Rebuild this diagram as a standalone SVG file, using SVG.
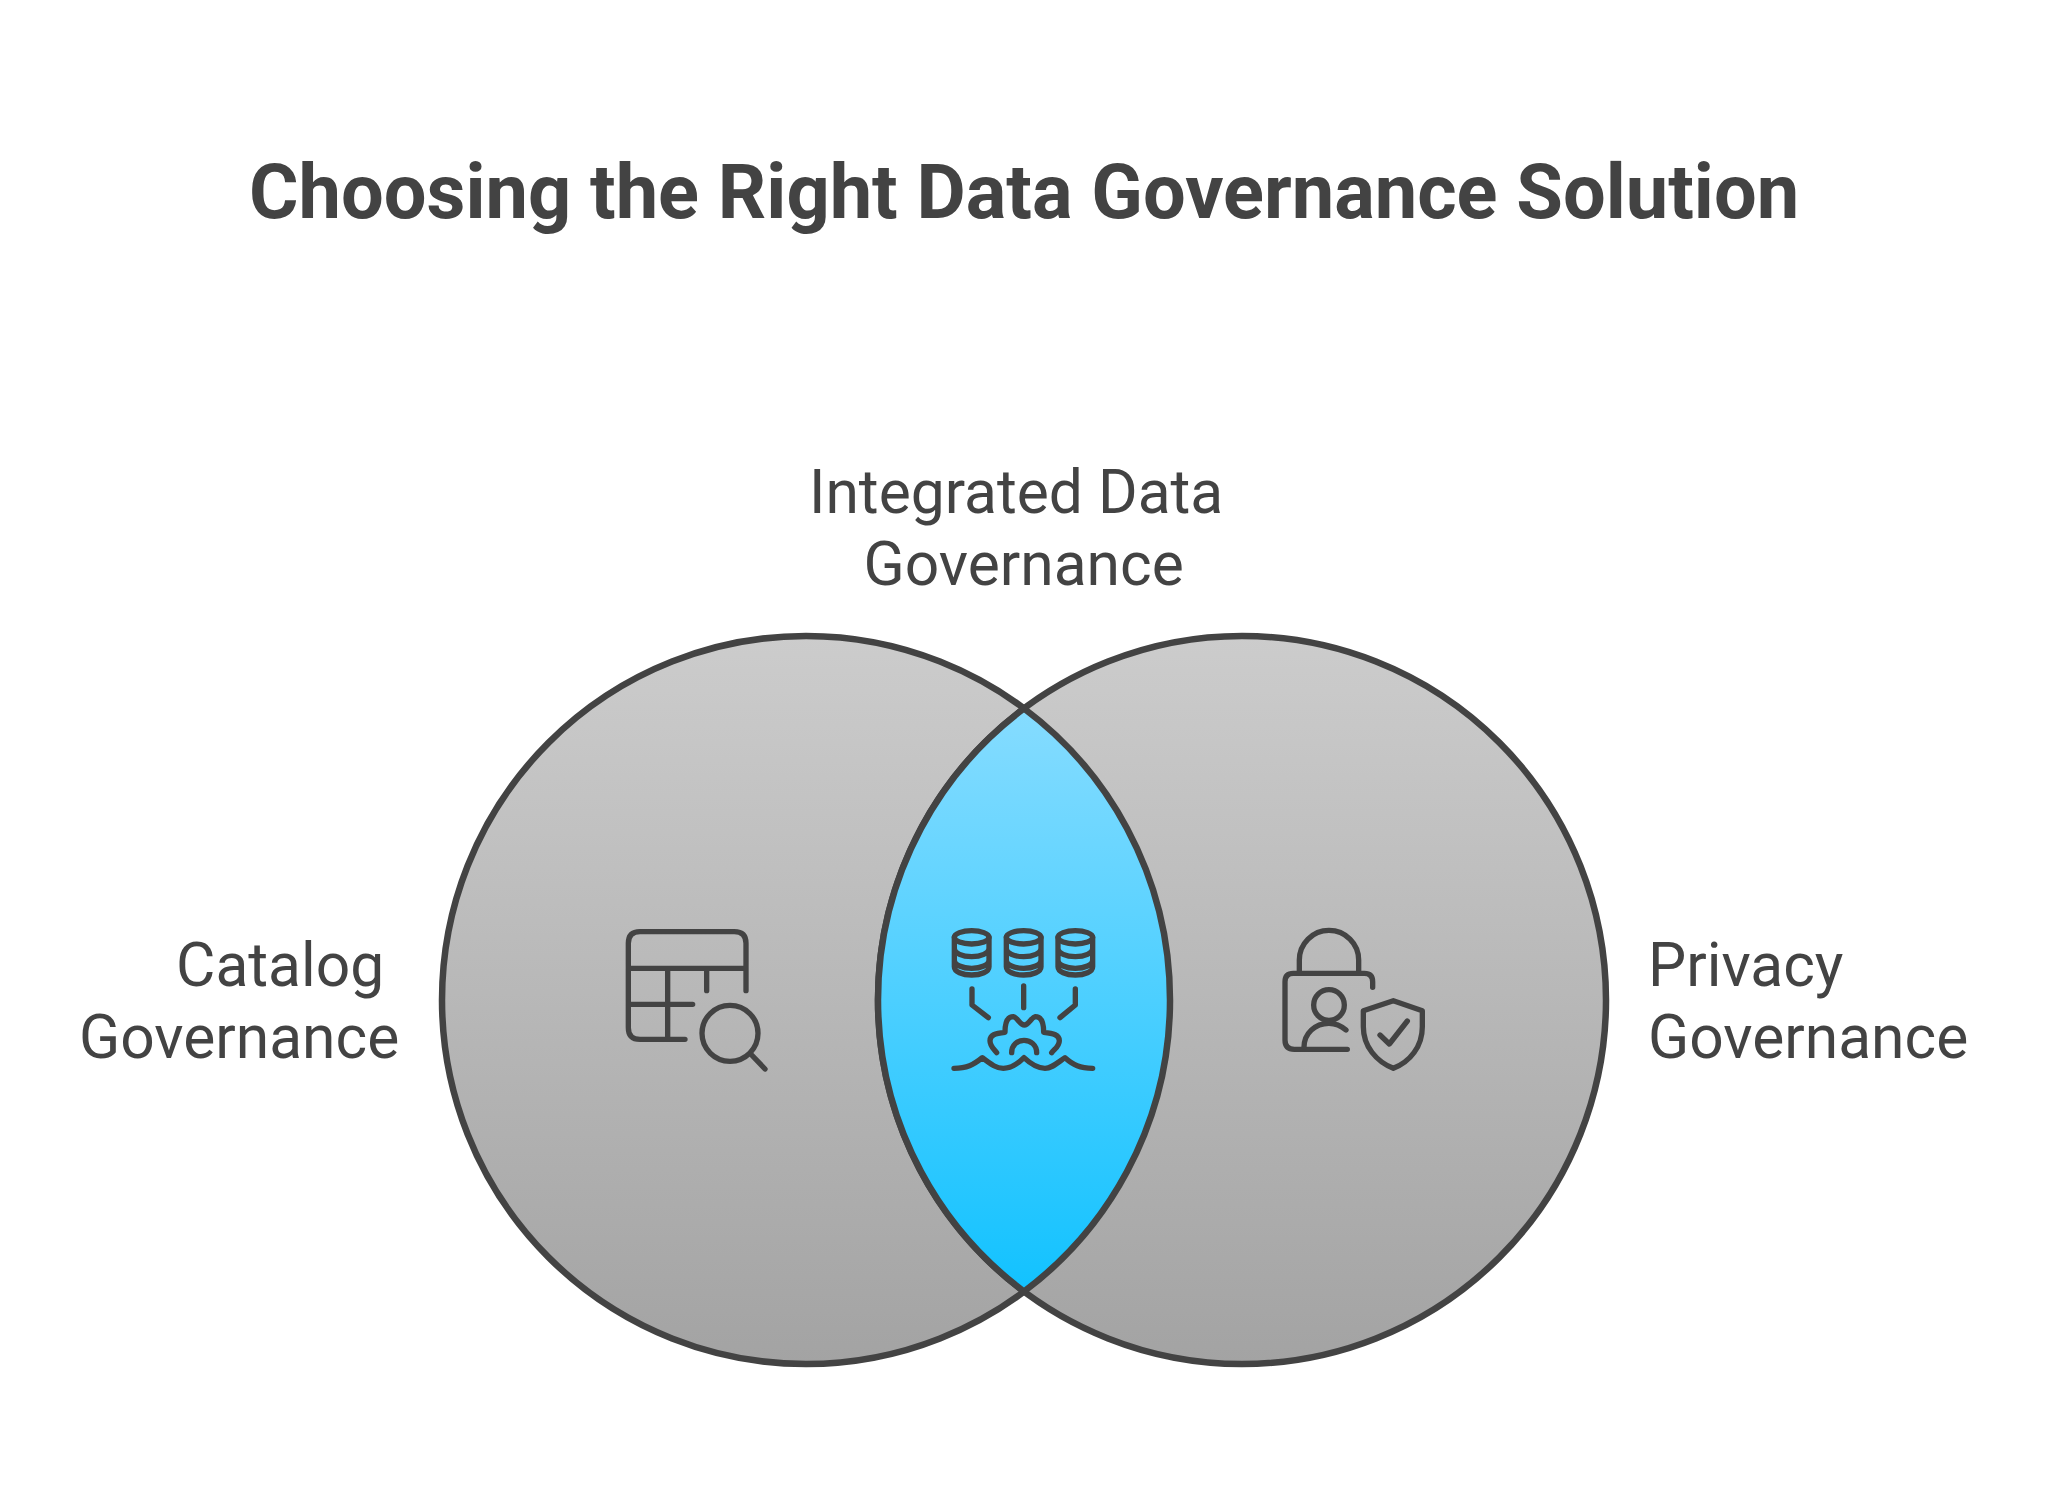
<svg xmlns="http://www.w3.org/2000/svg" width="2048" height="1509" viewBox="0 0 2048 1509">
<style>
text{font-family:Roboto,"Liberation Sans",sans-serif;fill:#434343}
.title{font-size:75.75px;font-weight:700}
.label{font-size:60.5px}
.ring{stroke:#434343;stroke-width:6.500;fill:url(#grey)}
.icon{fill:none;stroke:#434343;stroke-width:16;stroke-linecap:round;stroke-linejoin:round}
</style>
<defs>
<linearGradient id="grey" x1="0" y1="0" x2="0" y2="1"><stop offset="0" stop-color="#cccccc"/><stop offset="1" stop-color="#a3a3a3"/></linearGradient>
<linearGradient id="blue" x1="0" y1="0" x2="0" y2="1"><stop offset="0" stop-color="#86dcff"/><stop offset="1" stop-color="#12c2ff"/></linearGradient>
</defs>
<rect width="2048" height="1509" fill="#fff"/>
<text class="title" x="249" y="218">Choosing the Right Data Governance Solution</text>
<g id="catalog">
<circle class="ring" cx="806" cy="1000" r="364"/>
<g class="icon" transform="translate(600,900) scale(.33333)">
<path d="M85 205V130Q85 95 120 95H403Q438 95 438 130V272M85 205H438M320 205V272M203 205V418M85 205V383Q85 418 120 418H255M85 313H278"/>
<circle cx="390" cy="400" r="84"/>
<path d="M455 465L495 507"/>
</g>
<text class="label" x="176" y="985.500">Catalog</text>
<text class="label" x="79" y="1058">Governance</text>
</g>
<g id="privacy">
<circle class="ring" cx="1242" cy="1000" r="364"/>
<g class="icon" transform="translate(1260,910) scale(.33333)">
<path d="M118 185V150A89 89 0 0 1 296 150V185"/>
<path d="M338 232V215Q338 190 313 190H100Q75 190 75 215V390Q75 418 103 418H262"/>
<circle cx="207" cy="285" r="46"/>
<path d="M132 412C132 370 165 340 207 340C225 340 243 347 258 360"/>
<path d="M400 272L487 302V350C487 410 450 455 400 475C350 455 310 410 310 350V302Z"/>
<path d="M360 375L388 402L442 333"/>
</g>
<text class="label" x="1648" y="985.500">Privacy</text>
<text class="label" x="1648" y="1058">Governance</text>
</g>
<g id="integrated">
<path d="M1024 708.500A364 364 0 0 1 1024 1291.500A364 364 0 0 1 1024 708.500Z" fill="url(#blue)" stroke="#434343" stroke-width="6.500"/>
<g class="icon" transform="translate(930,910) scale(.33333)">
<g id="db"><ellipse cx="125" cy="82" rx="52" ry="20"/><path d="M73 82V170C73 185 97 195 125 195S177 185 177 170V82M73 115C73 130 97 140 125 140S177 130 177 115M73 150C73 165 97 175 125 175S177 165 177 150"/></g>
<use href="#db" x="156"/>
<use href="#db" x="311"/>
<path d="M126 237V285L175 323M281 228V293M436 237V285L390 323"/>
<path d="M200 428C190 415 180 408 180 392C180 375 195 370 225 367C225 335 235 320 250 320C262 322 270 345 283 345C296 345 304 322 316 320C331 320 341 335 341 367C371 370 388 375 388 392C388 408 376 415 365 428"/>
<path d="M245 428C245 405 262 391 282 391S320 405 320 428"/>
<path d="M72 475C110 475 130 465 157 443C185 465 200 475 220 475C245 475 265 460 282 443C300 460 320 475 345 475C365 475 380 460 405 443C430 465 450 475 488 475"/>
</g>
<text class="label" x="809" y="512.500">Integrated Data</text>
<text class="label" x="863.500" y="585">Governance</text>
</g>
</svg>
